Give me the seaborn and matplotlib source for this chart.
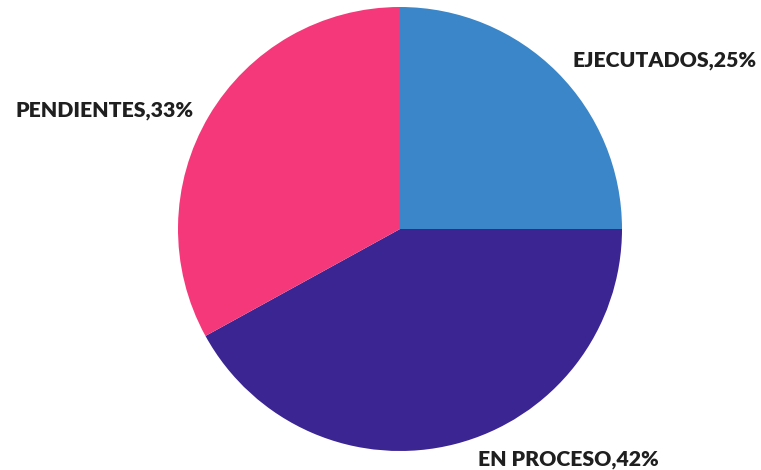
import matplotlib
matplotlib.use('Agg')
import matplotlib.pyplot as plt
import seaborn as sns

# Datos del gráfico
categorias = ['EJECUTADOS', 'EN PROCESO', 'PENDIENTES']
porcentajes = [25, 42, 33]
colores = ['#3a86c8', '#3b2592', '#f5387a']

# posiciones de las etiquetas (centro del texto, coordenadas del pie con radio 1)
pos_etiquetas = [(1.19, 0.76), (0.76, -1.04), (-1.33, 0.535)]

sns.set_theme(style='white')
plt.rcParams['font.family'] = ['Lato', 'DejaVu Sans']

fig = plt.figure(figsize=(7.61, 4.70), dpi=100)
ax = fig.add_axes([0, 0, 1, 1])

ax.pie(porcentajes, colors=colores, startangle=90, counterclock=False,
       radius=1.0, wedgeprops={'linewidth': 0})

for cat, pct, (x, y) in zip(categorias, porcentajes, pos_etiquetas):
    ax.text(x, y, f'{cat},{pct}%', ha='center', va='center',
            fontsize=15.3, fontweight='heavy', color='#1f1f1f')

# escala: 222 px por unidad, centro en (400, 229) px
ax.set_xlim(-400 / 222, 361 / 222)
ax.set_ylim(-241 / 222, 229 / 222)
ax.set_aspect('equal')
ax.axis('off')

plt.savefig('out.png', dpi=100, facecolor='white')
plt.close()
